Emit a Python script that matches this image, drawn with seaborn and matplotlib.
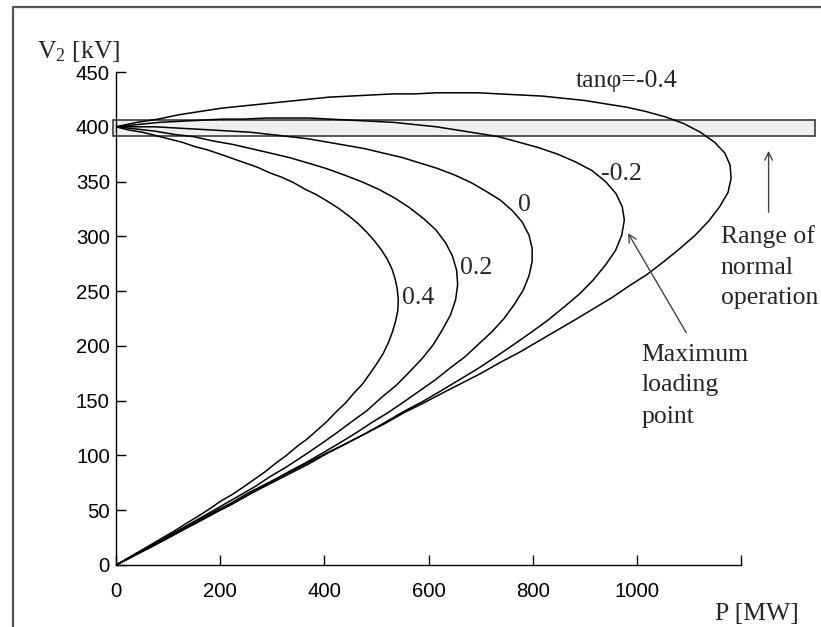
import matplotlib
matplotlib.use("Agg")
import matplotlib.pyplot as plt
from matplotlib.patches import Rectangle
from matplotlib.lines import Line2D
import seaborn as sns
import pandas as pd

# ---- data ----
tan_values = ["-0.4", "-0.2", "0", "0.2", "0.4"]

P_m04 = [0,40,81,121,162,203,244,285,326,367,408,449,490,531,573,614,655,696,737,778,
         819,859,900,939,979,1017,1055,1090,1122,1149,1169,1179,1181,1175,1159,1138,1112,1083,1052,1019,
         986,952,917,882,846,810,774,738,701,664,627,591,553,516,479,442,404,367,330,292,
         255,219,182,145,107,68,36,0]
V_m04 = [400,404,407,411,414,417,419,421,423,425,427,428,429,430,430,431,431,431,430,429,
         428,426,424,421,418,414,409,403,395,386,376,365,353,340,327,314,301,289,277,265,
         255,244,234,224,214,204,194,185,175,166,157,148,139,129,120,111,102,93,84,75,
         66,56,47,38,28,18,10,0]

P_m02 = [0,41,82,123,164,205,246,288,329,370,411,452,493,534,574,615,655,695,734,773,
         811,848,882,914,940,960,972,976,971,959,940,916,889,859,828,796,763,729,694,659,
         624,588,552,516,479,443,406,369,332,295,258,221,183,147,108,72,36,0]
V_m02 = [400,402,404,405,406,407,407,408,408,408,407,406,405,404,402,400,397,394,391,386,
         381,375,368,360,350,339,327,315,301,287,274,260,247,235,223,212,201,190,179,169,
         159,149,140,130,120,111,102,92,83,74,65,55,46,37,27,18,9,0]

P_0 = [0,37,74,111,149,186,222,259,296,333,369,406,442,478,513,549,583,617,650,682,
       711,738,762,780,793,799,799,793,782,765,745,722,697,670,642,613,583,553,522,491,
       459,428,396,363,331,298,265,231,199,165,133,98,62,25,0]
V_0 = [400,400,400,399,398,397,396,395,393,391,389,386,383,380,376,372,367,362,356,349,
       341,333,323,313,301,289,277,264,251,238,225,213,202,190,180,169,159,149,139,130,
       120,111,102,93,85,76,67,58,50,41,33,24,15,6,0]

P_p02 = [0,38,75,112,149,187,223,260,296,332,368,403,438,471,504,535,564,591,614,633,
         646,654,656,652,642,627,609,587,563,538,510,482,453,422,392,361,329,297,265,232,
         199,166,133,100,64,32,0]
V_p02 = [400,398,396,393,391,387,384,380,376,372,367,362,356,350,343,335,326,316,306,294,
         282,269,256,242,228,215,201,188,176,164,153,141,131,120,110,100,90,81,71,62,
         53,44,35,26,16,8,0]

P_p04 = [0,25,51,76,101,126,151,175,200,224,248,272,295,318,341,363,385,406,426,446,
         464,481,496,509,521,530,536,540,542,541,537,531,523,513,501,488,473,457,441,423,
         405,386,367,347,327,307,286,265,244,222,200,179,156,135,112,90,65,44,20,0]
V_p04 = [400,397,395,392,389,386,382,379,375,371,367,363,358,354,349,343,338,332,326,319,
         312,304,296,288,279,270,261,252,242,232,223,213,203,193,184,175,165,157,148,140,
         131,123,115,108,100,93,85,78,71,64,58,51,44,38,31,25,18,12,5,0]

normal_range = [392, 406]          # kV band of normal operation
x_ticks = [0, 200, 400, 600, 800, 1000, 1200]
x_tick_labels = ["0", "200", "400", "600", "800", "1000", ""]
y_ticks = [0, 50, 100, 150, 200, 250, 300, 350, 400, 450]

curves = {"-0.4": (P_m04, V_m04), "-0.2": (P_m02, V_m02), "0": (P_0, V_0),
          "0.2": (P_p02, V_p02), "0.4": (P_p04, V_p04)}

frames = []
for name in tan_values:
    P, V = curves[name]
    frames.append(pd.DataFrame({"P": P, "V": V, "tan": name}))
df = pd.concat(frames, ignore_index=True)

# ---- styling ----
sns.set_theme(style="white")
plt.rcParams["font.family"] = ["Liberation Sans", "DejaVu Sans"]
plt.rcParams["mathtext.fontset"] = "custom"
plt.rcParams["mathtext.rm"] = "Liberation Serif"
plt.rcParams["mathtext.it"] = "Liberation Serif:italic"

SERIF = ["Liberation Serif", "DejaVu Serif"]
FS = 18.5

fig = plt.figure(figsize=(8.21, 6.27), dpi=100)
W, H = 821, 627
ax = fig.add_axes([116 / W, (H - 565) / H, (741 - 116) / W, (565 - 72) / H])

for name in tan_values:
    sub = df[df["tan"] == name]
    sns.lineplot(data=sub, x="P", y="V", sort=False, estimator=None, color="black",
                 linewidth=1.1, ax=ax, zorder=3)

ax.set_xlim(0, 1200)
ax.set_ylim(0, 450)
ax.set_xticks(x_ticks)
ax.set_xticklabels(x_tick_labels)
ax.set_yticks(y_ticks)
ax.set_xlabel("")
ax.set_ylabel("")
for s in ["top", "right"]:
    ax.spines[s].set_visible(False)
for s in ["left", "bottom"]:
    ax.spines[s].set_color("black")
    ax.spines[s].set_linewidth(1.0)
ax.tick_params(axis="both", which="major", direction="in", length=7, width=1.0,
               color="black", labelcolor="black", labelsize=14.7,
               bottom=True, left=True, top=False, right=False)
ax.tick_params(axis="x", pad=12)
ax.tick_params(axis="y", pad=4.5)
ax.grid(False)

# normal operation band
ax.add_patch(Rectangle((-6, normal_range[0]), 1349, normal_range[1] - normal_range[0],
                       facecolor="#efefef", edgecolor="#3c3c3c", linewidth=1.2,
                       clip_on=False, zorder=2))

# curve labels
ax.text(882, 436, "tanφ=-0.4", family=SERIF, fontsize=FS, va="baseline", clip_on=False)
ax.text(932, 351, "-0.2", family=SERIF, fontsize=FS, va="baseline")
ax.text(772, 323, "0", family=SERIF, fontsize=FS, va="baseline")
ax.text(660, 266, "0.2", family=SERIF, fontsize=FS, va="baseline")
ax.text(550, 238, "0.4", family=SERIF, fontsize=FS, va="baseline")

# annotations
for txt, yv in zip(["Range of", "normal", "operation"], [293.6, 265.3, 237.8]):
    ax.text(1161, yv, txt, family=SERIF, fontsize=FS, va="baseline", clip_on=False)
for txt, yv in zip(["Maximum", "loading", "point"], [186.6, 158.5, 129.9]):
    ax.text(1009, yv, txt, family=SERIF, fontsize=FS, va="baseline", clip_on=False)

ax.annotate("", xy=(1253, 378), xytext=(1253, 322),
            arrowprops=dict(arrowstyle="->", color="#444444", lw=1.0, mutation_scale=14,
                            shrinkA=0, shrinkB=0), annotation_clip=False)
ax.annotate("", xy=(983, 303), xytext=(1095, 212),
            arrowprops=dict(arrowstyle="->", color="#444444", lw=1.0, mutation_scale=14,
                            shrinkA=0, shrinkB=0), annotation_clip=False)

# axis titles
fig.text(37 / W, (H - 58) / H, "V$_2$ [kV]", family=SERIF, fontsize=FS, va="baseline")
fig.text(715 / W, (H - 620) / H, "P [MW]", family=SERIF, fontsize=FS, va="baseline")

# outer frame (left and top edges of the enclosing box)
fig.add_artist(Line2D([13 / W, 13 / W, 1.01], [-0.01, (H - 7) / H, (H - 7) / H],
                      transform=fig.transFigure, color="#555555", linewidth=1.6))

fig.savefig("out.png", dpi=100)
